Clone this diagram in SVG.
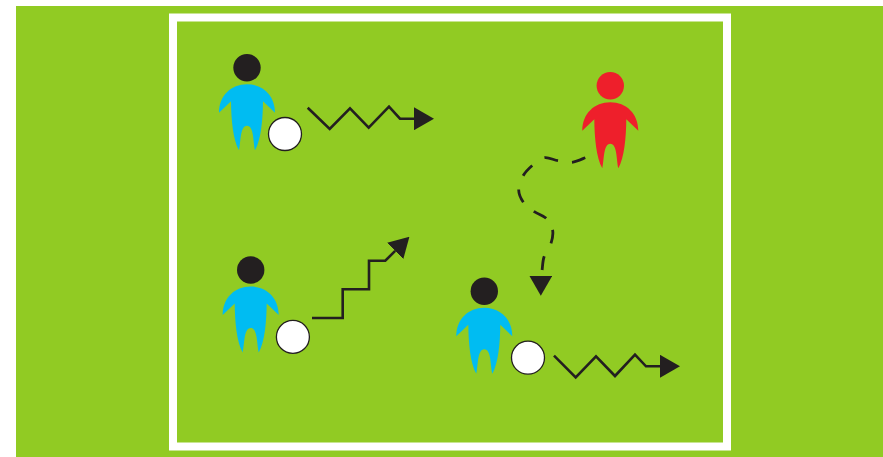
<svg xmlns="http://www.w3.org/2000/svg" width="883" height="457" viewBox="0 0 883 457">
  <style>
    .field { fill: #91cb23; }
    .border { fill: none; stroke: #ffffff; stroke-width: 8; }
    .ink { fill: #231f20; }
    .blue { fill: #00bcf2; }
    .red { fill: #ee1f2b; }
    .ball { fill: #ffffff; stroke: #231f20; stroke-width: 1.3; }
    .line { fill: none; stroke: #231f20; stroke-width: 2.6; marker-end: url(#head); }
    .dashed { stroke-width: 2.8; stroke-dasharray: 14.1 14.1 14 14.7 13.7 14.6 13.6 13.9 14.2 13.4 13.8 14.4 13.9 20; }
  </style>
  <defs>
    <path id="body" d="M-28 45C-28 28-16 16.5 0 16.5C16 16.5 28 28 28 45L16 33.5C15.8 52 14 72 8 82.5C6 74 7 58 0 58C-7 58-6 74-8 82.5C-14 72-15.8 52-16 33.5Z"/>
    <marker id="head" viewBox="0 0 20 23" refX="0" refY="11.5" markerWidth="20" markerHeight="23" markerUnits="userSpaceOnUse" orient="auto">
      <polygon points="0,0 20,11.5 0,23" fill="#231f20"/>
    </marker>
  </defs>
  <rect class="field" x="16" y="6" width="867" height="451"/>
  <rect class="border" x="173" y="17.5" width="554" height="429"/>
  <g id="connectors">
    <path class="line" d="M307.7 107.7L329.7 129L350 108.3L368.7 127.7L389 106.7L400 118.7H414"/>
    <path class="line" d="M312 318H342.7V289.3H369V260.7H385.3L395.2 250.9"/>
    <path class="line" d="M554 355.7L575.7 377.3L596 356.3L615 376L635 354.7L646 366.3H660"/>
    <path class="line dashed" d="M585.3 157.7C583.1 158.5 576.55 161.8 572 162.3C567.45 162.8 562.6 161.47 558 160.7C553.4 159.93 548.63 156.87 544.3 157.7C539.97 158.53 535.55 162.65 532 165.7C528.45 168.75 525.2 171.95 523 176C520.8 180.05 518.6 185.55 518.7 190C518.8 194.45 521.1 199.1 523.7 202.7C526.3 206.3 530.47 209.03 534.3 211.7C538.13 214.37 543.63 215.53 546.7 218.7C549.77 221.87 552.03 226.43 552.7 230.7C553.37 234.97 552.15 239.92 550.7 244.3C549.25 248.68 545.45 252.6 544 257C542.55 261.4 542.53 267.6 542 270.7C541.6 272.5 540.8 273 540.8 275.7"/>
  </g>
  <g id="player-top-left">
    <circle class="ink" cx="247" cy="67.7" r="13.7"/>
    <use href="#body" class="blue" x="247" y="67.7"/>
  </g>
  <g id="ball-top-left"><circle class="ball" cx="285" cy="134" r="16.5"/></g>
  <g id="opponent-red">
    <circle class="red" cx="610.3" cy="85.7" r="13.7"/>
    <use href="#body" class="red" x="610.3" y="85.7"/>
  </g>
  <g id="player-bottom-left">
    <circle class="ink" cx="250.7" cy="270" r="13.7"/>
    <use href="#body" class="blue" x="250.7" y="270"/>
  </g>
  <g id="ball-bottom-left"><circle class="ball" cx="292.9" cy="336.9" r="16.5"/></g>
  <g id="player-bottom-right">
    <circle class="ink" cx="484.3" cy="291.3" r="13.7"/>
    <use href="#body" class="blue" x="484.3" y="291.3"/>
  </g>
  <g id="ball-bottom-right"><circle class="ball" cx="528" cy="357.7" r="16.5"/></g>
</svg>
